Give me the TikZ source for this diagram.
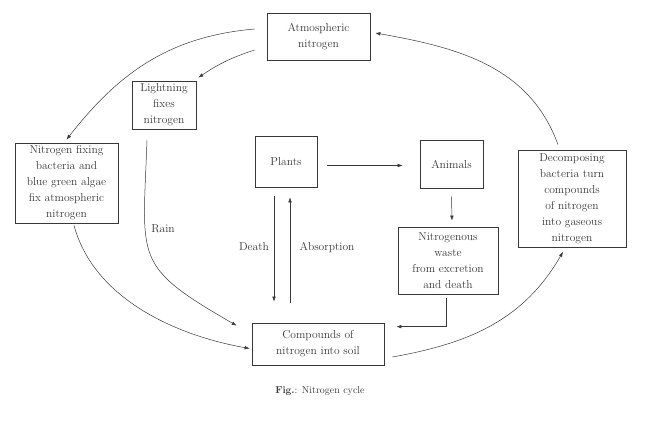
\documentclass[tikz,border=0pt]{standalone}
\usetikzlibrary{arrows.meta}
\definecolor{ink}{gray}{0.22}

\begin{document}
\begin{tikzpicture}[x=1pt,y=1pt,
    box/.style={draw=ink, line width=0.7pt, inner sep=0pt, align=center,
        text=ink, font=\fontsize{11.5}{16}\selectfont},
    arr/.style={draw=ink, line width=0.5pt, -{Latex[length=5pt,width=3.6pt]}},
    lbl/.style={text=ink, font=\fontsize{11.5}{14}\selectfont}]
    \useasboundingbox (0,0) rectangle (651,443);

    % Boxes
    \node[box, minimum width=103, minimum height=47] (atm) at (318.5,406.5) {Atmospheric\\nitrogen};
    \node[box, minimum width=64, minimum height=48] (light) at (164,338) {Lightning\\fixes\\nitrogen};
    \node[box, minimum width=103, minimum height=80] (fix) at (66.5,260) {Nitrogen fixing\\bacteria and\\blue green algae\\fix atmospheric\\nitrogen};
    \node[box, minimum width=62, minimum height=51] (plants) at (286,281.5) {Plants};
    \node[box, minimum width=63, minimum height=48] (animals) at (451.5,279) {Animals};
    \node[box, minimum width=108, minimum height=97] (decomp) at (572,244.5) {Decomposing\\bacteria turn\\compounds\\of nitrogen\\into gaseous\\nitrogen};
    \node[box, minimum width=100, minimum height=67] (waste) at (448,182.5) {Nitrogenous\\waste\\from excretion\\and death};
    \node[box, minimum width=132, minimum height=42] (soil) at (318,99) {Compounds of\\nitrogen into soil};

    % Atmosphere to the fixers
    \draw[arr] ([xshift=-12pt,yshift=7.5pt]atm.west) to[out=185,in=52] ([yshift=3pt]fix.north);
    \draw[arr] ([xshift=-12pt,yshift=-13.5pt]atm.west) to[bend right=8] ([xshift=2pt,yshift=3pt]light.north east);

    % Down into the soil
    \draw[arr] ([xshift=-17pt,yshift=-11pt]light.south) to[out=268,in=150,looseness=1.5] ([xshift=-15pt,yshift=-3pt]soil.north west);
    \draw[arr] ([xshift=7.5pt,yshift=-2pt]fix.south) to[out=285,in=170,looseness=0.9] ([xshift=-2pt,yshift=-4.5pt]soil.west);

    % Plants and animals
    \draw[arr] ([xshift=10pt,yshift=-4pt]plants.east) -- ([xshift=-17pt,yshift=-1.5pt]animals.west);
    \draw[arr] ([xshift=-12pt,yshift=-9pt]plants.south) -- ([xshift=-44pt,yshift=21pt]soil.north);
    \draw[arr] ([xshift=-28pt,yshift=20pt]soil.north) -- ([xshift=4pt,yshift=-10pt]plants.south);
    \draw[arr] ([yshift=-8pt]animals.south) -- ([xshift=4pt,yshift=6pt]waste.north);
    \draw[arr] ([xshift=-2pt,yshift=-4pt]waste.south) |- ([xshift=12pt,yshift=-4pt]soil.north east);

    % Back to the atmosphere
    \draw[arr] ([xshift=8pt,yshift=-13pt]soil.east) to[out=10,in=240] ([xshift=-9pt,yshift=-4.5pt]decomp.south);
    \draw[arr] ([xshift=-14pt,yshift=5pt]decomp.north) to[out=110,in=350] ([xshift=5pt,yshift=3.5pt]atm.east);

    % Labels
    \node[lbl] (rain) at (163,214) {Rain};
    \node[lbl] (death) at (254,196) {Death};
    \node[lbl] (absorb) at (327,195) {Absorption};
    \node[text=ink, font=\fontsize{10}{12}\selectfont] (cap) at (320,52) {\textbf{Fig.}: Nitrogen cycle};
\end{tikzpicture}
\end{document}
